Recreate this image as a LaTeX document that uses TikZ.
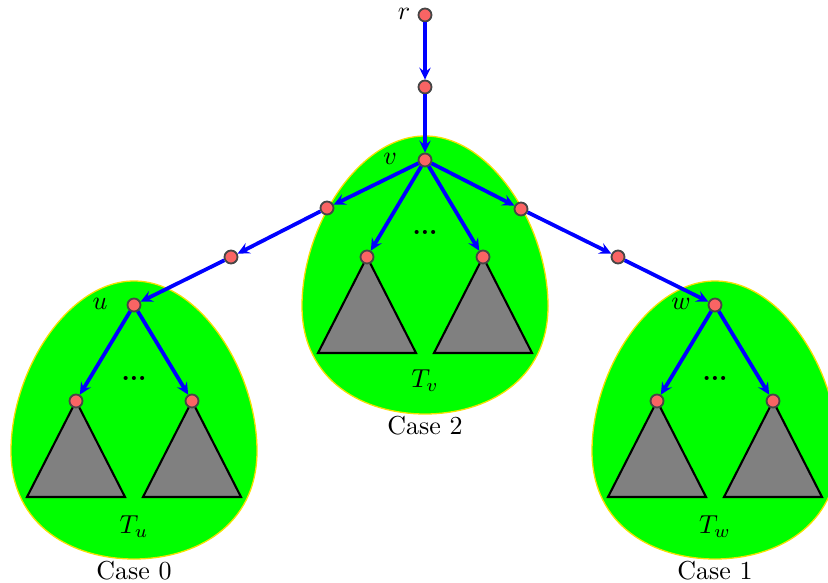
\documentclass[tikz,border=0pt]{standalone}
\usetikzlibrary{arrows.meta}
\definecolor{blobgreen}{RGB}{0,255,0}
\definecolor{blobedge}{RGB}{245,225,0}
\definecolor{vfill}{RGB}{250,100,100}
\definecolor{vedge}{RGB}{70,70,70}
\definecolor{treegray}{RGB}{128,128,128}
\begin{document}
\begin{tikzpicture}[x=0.385pt,y=-0.385pt,
  vert/.style={circle,draw=vedge,fill=vfill,line width=0.7pt,minimum size=5pt,inner sep=0pt},
  tedge/.style={draw=blue,line width=1.45pt,-{Stealth[length=4.6pt,width=4.4pt,inset=1.7pt]}},
  blob/.style={fill=blobgreen,draw=blobedge,line width=0.5pt},
  subtree/.style={fill=treegray,draw=black,line width=0.8pt,line join=miter},
  lbl/.style={inner sep=0pt}]
\useasboundingbox (0,0) rectangle (828,583);
\clip (0,0) rectangle (828,583);
% blobs
\foreach \cx/\ny in {425/160,134/305,715/305}{
  \path[blob] (\cx,{\ny-24})
    .. controls ({\cx+66},{\ny-24}) and ({\cx+123},{\ny+66}) .. ({\cx+123},{\ny+146})
    .. controls ({\cx+123},{\ny+222}) and ({\cx+60},{\ny+254}) .. (\cx,{\ny+254})
    .. controls ({\cx-60},{\ny+254}) and ({\cx-123},{\ny+222}) .. ({\cx-123},{\ny+146})
    .. controls ({\cx-123},{\ny+66}) and ({\cx-66},{\ny-24}) .. cycle;
}
% subtrees
\foreach \x/\y in {367/257,483/257,76/401,192/401,657/401,773/401}{
  \path[subtree] (\x,\y) -- ({\x-49},{\y+96}) -- ({\x+49},{\y+96}) -- cycle;
}
% vertices
\node[vert] (r) at (425,15) {};
\node[vert] (a) at (425,87) {};
\node[vert] (v) at (425,160) {};
\node[vert] (l1) at (327,208) {};
\node[vert] (l2) at (231,257) {};
\node[vert] (u) at (134,305) {};
\node[vert] (r1) at (521,209) {};
\node[vert] (r2) at (618,257) {};
\node[vert] (w) at (715,305) {};
\node[vert] (v1) at (367,257) {};
\node[vert] (v2) at (483,257) {};
\node[vert] (u1) at (76,401) {};
\node[vert] (u2) at (192,401) {};
\node[vert] (w1) at (657,401) {};
\node[vert] (w2) at (773,401) {};
% edges
\draw[tedge] (r) -- (a);
\draw[tedge] (a) -- (v);
\draw[tedge] (v) -- (l1);
\draw[tedge] (l1) -- (l2);
\draw[tedge] (l2) -- (u);
\draw[tedge] (v) -- (r1);
\draw[tedge] (r1) -- (r2);
\draw[tedge] (r2) -- (w);
\draw[tedge] (v) -- (v1);
\draw[tedge] (v) -- (v2);
\draw[tedge] (u) -- (u1);
\draw[tedge] (u) -- (u2);
\draw[tedge] (w) -- (w1);
\draw[tedge] (w) -- (w2);
% labels
\node[lbl] (lr) at (404,14) {$r$};
\node[lbl] (lv) at (390,159) {$v$};
\node[lbl] (lu) at (100,304) {$u$};
\node[lbl] (lw) at (681,304) {$w$};
\node[lbl,anchor=base] (dv) at (425,235) {\textbf{...}};
\node[lbl,anchor=base] (du) at (134,380) {\textbf{...}};
\node[lbl,anchor=base] (dw) at (715,380) {\textbf{...}};
\node[lbl] (tv) at (425,381) {$T_v$};
\node[lbl] (tu) at (134,527) {$T_u$};
\node[lbl] (tw) at (715,527) {$T_w$};
\node[lbl] (cv) at (425,426) {Case 2};
\node[lbl] (cu) at (134,571) {Case 0};
\node[lbl] (cw) at (715,571) {Case 1};
\end{tikzpicture}
\end{document}
